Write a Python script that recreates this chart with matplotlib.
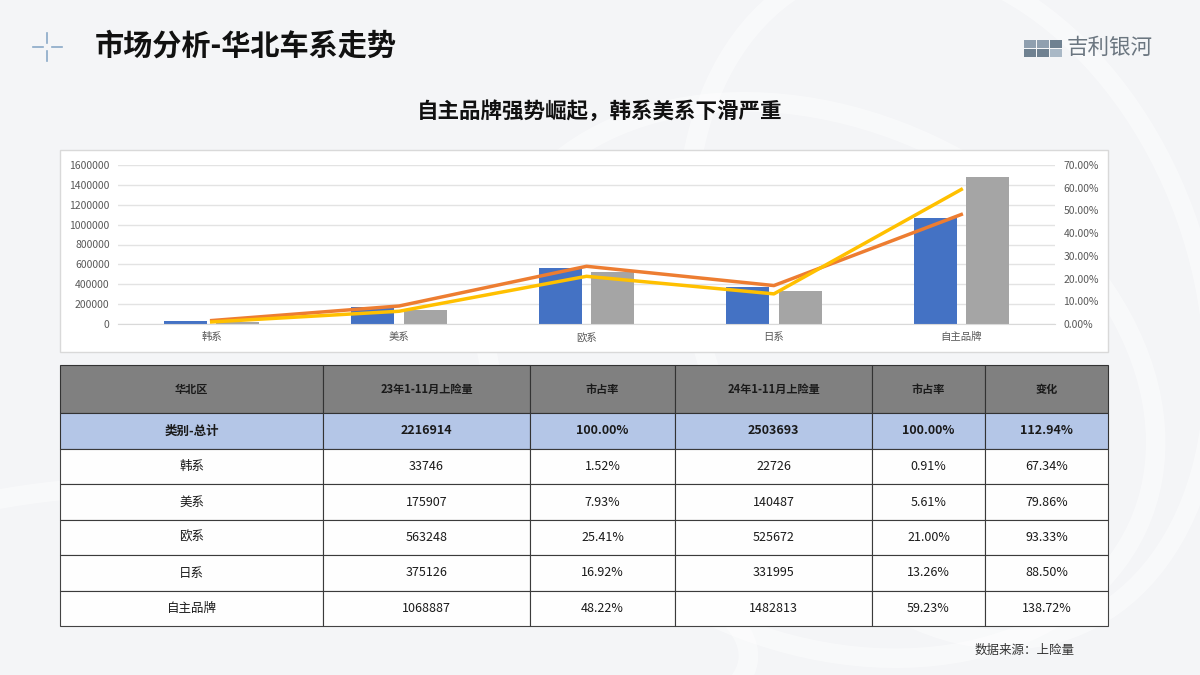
import matplotlib.pyplot as plt
from matplotlib.patches import Rectangle, Ellipse
from matplotlib.ticker import FuncFormatter

plt.rcParams['font.family'] = ['Noto Sans CJK SC', 'DejaVu Sans']

# data
categories = ['韩系', '美系', '欧系', '日系', '自主品牌']
vol_23 = [33746, 175907, 563248, 375126, 1068887]
vol_24 = [22726, 140487, 525672, 331995, 1482813]
share_23 = [1.52, 7.93, 25.41, 16.92, 48.22]
share_24 = [0.91, 5.61, 21.00, 13.26, 59.23]
change = ['67.34%', '79.86%', '93.33%', '88.50%', '138.72%']
total_23 = 2216914
total_24 = 2503693
total_change = '112.94%'
col_labels = ['华北区', '23年1-11月上险量', '市占率', '24年1-11月上险量', '市占率', '变化']

W, H = 1200, 675
fig = plt.figure(figsize=(12, 6.75), dpi=100)
fig.patch.set_facecolor('#f4f5f7')


def fx(x):
    return x / W


def fy(y):
    return 1 - y / H


# background decoration (soft swirls)
bg = fig.add_axes([0, 0, 1, 1], zorder=-5)
bg.set_xlim(0, W)
bg.set_ylim(H, 0)
bg.axis('off')
for cx, cy, w, h, a in [(820, 380, 700, 520, 25), (950, 300, 500, 700, -20),
                        (300, 620, 900, 260, 5)]:
    bg.add_patch(Ellipse((cx, cy), w, h, angle=a, fc='none', ec='white', lw=14, alpha=0.45))

# header
fig.text(fx(95), fy(46), '市场分析-华北车系走势', fontsize=21, fontweight='bold',
         va='center', ha='left', color='#111111')
bg.plot([33, 43], [47, 47], color='#8aa9c7', lw=1.2)
bg.plot([52, 62], [47, 47], color='#8aa9c7', lw=1.2)
bg.plot([47, 47], [33, 43], color='#8aa9c7', lw=1.2)
bg.plot([47, 47], [51, 61], color='#8aa9c7', lw=1.2)

# logo
for lx, ly, c in [(1024, 40, '#8f9faf'), (1037, 40, '#8f9faf'), (1050, 40, '#6f8191'),
                  (1024, 49, '#6f8191'), (1037, 49, '#6f8191'), (1050, 49, '#a9b8c6')]:
    bg.add_patch(Rectangle((lx, ly), 12, 8, fc=c, ec='none'))
fig.text(fx(1067), fy(48), '吉利银河', fontsize=15.5, color='#6b7680', va='center', ha='left')

# subtitle
fig.text(0.5, fy(111), '自主品牌强势崛起，韩系美系下滑严重', fontsize=15.5, fontweight='bold',
         ha='center', va='center', color='#111111')

# chart frame
bg.add_patch(Rectangle((60, 150), 1048, 202, fc='white', ec='#d9d9d9', lw=1))

ax = fig.add_axes([fx(118), fy(324), fx(1055 - 118), fy(165) - fy(324)])
ax.set_facecolor('none')
x = list(range(len(categories)))
bw = 0.23
ax.bar([i - 0.14 for i in x], vol_23, width=bw, color='#4472c4', zorder=2)
ax.bar([i + 0.14 for i in x], vol_24, width=bw, color='#a5a5a5', zorder=2)
ax.set_xlim(-0.5, 4.5)
ax.set_ylim(0, 1600000)
ax.set_yticks(range(0, 1600001, 200000))
ax.yaxis.set_major_formatter(FuncFormatter(lambda v, p: f'{int(v)}'))
ax.yaxis.grid(True, color='#e3e3e3', lw=1, zorder=0)
ax.set_axisbelow(True)
for s in ax.spines.values():
    s.set_visible(False)
ax.spines['bottom'].set_visible(True)
ax.spines['bottom'].set_color('#d9d9d9')
ax.set_xticks(x)
ax.set_xticklabels(categories)
ax.tick_params(length=0, labelsize=7.5, colors='#595959', pad=6)

ax2 = ax.twinx()
ax2.plot(x, share_23, color='#ed7d31', lw=2.5, zorder=3)
ax2.plot(x, share_24, color='#ffc000', lw=2.5, zorder=3)
ax2.set_ylim(0, 70)
ax2.set_yticks(range(0, 71, 10))
ax2.set_yticklabels([f'{v:.2f}%' for v in range(0, 71, 10)])
ax2.tick_params(length=0, labelsize=7.5, colors='#595959', pad=6)
for s in ax2.spines.values():
    s.set_visible(False)

# table
rows = [['类别-总计', str(total_23), '100.00%', str(total_24), '100.00%', total_change]]
for i, c in enumerate(categories):
    rows.append([c, str(vol_23[i]), f'{share_23[i]:.2f}%', str(vol_24[i]),
                 f'{share_24[i]:.2f}%', change[i]])

col_edges = [60, 323, 530, 675, 872, 985, 1108]
row_edges = [365, 413, 449, 484, 520, 555, 591, 626]
cells = [col_labels] + rows
for r in range(len(cells)):
    y0, y1 = row_edges[r], row_edges[r + 1]
    if r == 0:
        fc = '#808080'
    elif r == 1:
        fc = '#b4c6e7'
    else:
        fc = '#ffffff'
    for c in range(len(col_labels)):
        x0, x1 = col_edges[c], col_edges[c + 1]
        bg.add_patch(Rectangle((x0, y0), x1 - x0, y1 - y0, fc=fc, ec='#333333', lw=0.8,
                               alpha=0.92 if r > 1 else 1))
        bg.text((x0 + x1) / 2, (y0 + y1) / 2, cells[r][c], ha='center', va='center',
                fontsize=9 if r > 0 else 8, color='#1a1a1a',
                fontweight='bold' if r <= 1 else 'normal')

fig.text(fx(1075), fy(650), '数据来源：上险量', fontsize=9, color='#333333', ha='right', va='center')

fig.savefig('out.png', dpi=100, facecolor=fig.get_facecolor())
